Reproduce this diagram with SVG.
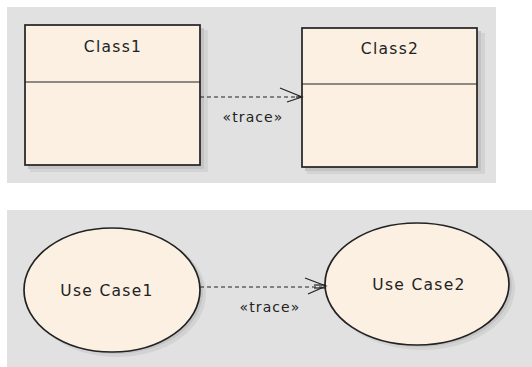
<svg xmlns="http://www.w3.org/2000/svg" width="532" height="367" viewBox="0 0 532 367">
<style>
.panel{fill:#e1e1e1}
.node{fill:#fbf0e2;stroke:#222;stroke-width:1.7}
.sh1{fill:#c4c4c4}
.sh2{fill:#d3d3d3}
.lbl{font-family:"DejaVu Sans",sans-serif;font-size:15.5px;letter-spacing:1.3px;fill:#222;text-anchor:middle}
.st{font-family:"DejaVu Sans",sans-serif;font-size:14px;letter-spacing:1.1px;fill:#222;text-anchor:middle}
.dash{fill:none;stroke:#222;stroke-width:1.2;stroke-dasharray:4,3}
.head{fill:none;stroke:#222;stroke-width:1.2}
</style>
<rect width="532" height="367" fill="#ffffff"/>
<rect class="panel" x="7" y="7" width="489" height="176"/>
<rect class="panel" x="7" y="210" width="525" height="157"/>
<g id="class1">
<rect class="sh2" x="30" y="30" width="178" height="142"/>
<rect class="sh1" x="28" y="28" width="176" height="141"/>
<rect class="node" x="25" y="25" width="175" height="140"/>
<line x1="25" y1="82" x2="200" y2="82" stroke="#222" stroke-width="1.2"/>
<text class="lbl" x="113" y="52">Class1</text>
</g>
<g id="class2">
<rect class="sh2" x="307" y="33" width="178" height="141"/>
<rect class="sh1" x="305" y="31" width="176" height="140"/>
<rect class="node" x="302" y="28" width="175" height="139"/>
<line x1="302" y1="84" x2="477" y2="84" stroke="#222" stroke-width="1.2"/>
<text class="lbl" x="390" y="54">Class2</text>
</g>
<g id="usecase1">
<ellipse class="sh2" cx="117" cy="294" rx="89" ry="63"/>
<ellipse class="sh1" cx="115" cy="292" rx="88" ry="62"/>
<ellipse class="node" cx="112" cy="290" rx="88" ry="62"/>
<text class="lbl" x="107" y="296">Use Case1</text>
</g>
<g id="usecase2">
<ellipse class="sh2" cx="422" cy="288" rx="93" ry="62"/>
<ellipse class="sh1" cx="420" cy="286" rx="92" ry="61"/>
<ellipse class="node" cx="417" cy="284" rx="92" ry="61"/>
<text class="lbl" x="419" y="290">Use Case2</text>
</g>
<g id="connectors">
<line class="dash" x1="200" y1="97" x2="300" y2="97"/>
<polyline class="head" points="280,88 302,97 287,102"/>
<line class="head" x1="296" y1="97" x2="302" y2="97"/>
<text class="st" x="253" y="122">«trace»</text>
<line class="dash" x1="200" y1="287" x2="322" y2="287"/>
<polyline class="head" points="305,278 326,286 308,294"/>
<line class="head" x1="314" y1="285" x2="326" y2="285"/>
<line class="head" x1="314" y1="288" x2="326" y2="288"/>
<text class="st" x="270" y="312">«trace»</text>
</g>
</svg>
